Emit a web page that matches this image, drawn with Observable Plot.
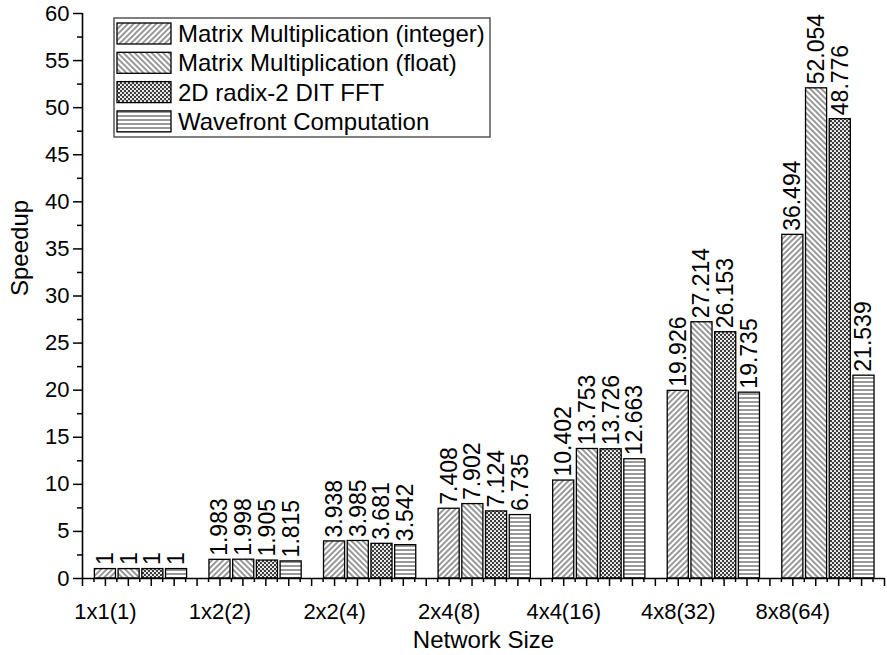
<!DOCTYPE html>
<html>
<head>
<meta charset="utf-8">
<script src="https://cdn.jsdelivr.net/npm/d3@7"></script>
<script src="https://cdn.jsdelivr.net/npm/@observablehq/plot@0.6"></script>
<style>
  body { margin: 0; background: #fff; }
  #chart { width: 887px; height: 655px; }
</style>
</head>
<body>
<div id="chart"></div>
<script>
// Speedup per network size for four parallel workloads
const networkSizes = ["1x1(1)", "1x2(2)", "2x2(4)", "2x4(8)", "4x4(16)", "4x8(32)", "8x8(64)"];
const seriesNames = [
  "Matrix Multiplication (integer)",
  "Matrix Multiplication (float)",
  "2D radix-2 DIT FFT",
  "Wavefront Computation"
];
const mmInteger = [1, 1.983, 3.938, 7.408, 10.402, 19.926, 36.494];
const mmFloat   = [1, 1.998, 3.985, 7.902, 13.753, 27.214, 52.054];
const fft2d     = [1, 1.905, 3.681, 7.124, 13.726, 26.153, 48.776];
const wavefront = [1, 1.815, 3.542, 6.735, 12.663, 19.735, 21.539];
const yTicks = [0, 5, 10, 15, 20, 25, 30, 35, 40, 45, 50, 55, 60];

const seriesValues = [mmInteger, mmFloat, fft2d, wavefront];
const patternIds = ["hatch-up", "hatch-down", "dots", "hlines"];

// Layout of the grouped bars on a linear x axis: the group label sits under the first bar
const xDomain = [0.8, 7.8];
const barStep = 0.207;
const barWidth = 0.184;

const bars = [];
networkSizes.forEach((size, i) => {
  seriesValues.forEach((values, j) => {
    const center = i + 1 + j * barStep;
    bars.push({
      size,
      series: seriesNames[j],
      value: values[i],
      xc: center,
      x1: center - barWidth / 2,
      x2: center + barWidth / 2
    });
  });
});

const tenths = d3.range(8, 79).map(v => v / 10);
const xMajorTicks = tenths.filter((_, k) => k % 2 === 0);
const xMinorTicks = tenths.filter((_, k) => k % 2 === 1);
const yMinorTicks = yTicks.slice(0, -1).map(v => v + 2.5);

const font = "Arial, 'Liberation Sans', Helvetica, sans-serif";

const svg = Plot.plot({
  width: 887,
  height: 655,
  marginLeft: 82,
  marginRight: 3,
  marginTop: 13,
  marginBottom: 77,
  style: { fontFamily: font, background: "#fff", color: "#000", overflow: "visible" },
  x: { domain: xDomain, label: null },
  y: { domain: [0, 60], label: null },
  color: { type: "ordinal", domain: seriesNames, range: patternIds.map(id => `url(#${id})`) },
  marks: [
    Plot.rect(bars, { x1: "x1", x2: "x2", y1: 0, y2: "value", fill: "series", stroke: "#000", strokeWidth: 1.3 }),
    Plot.text(bars, {
      x: "xc", y: "value", text: d => String(d.value),
      rotate: -90, textAnchor: "start", dy: -4, fontSize: 23, fill: "#000"
    }),
    Plot.axisY({ ticks: yTicks, tickSize: 9, tickPadding: 4, fontSize: 22, strokeWidth: 1.5, label: null }),
    Plot.axisY({ ticks: yMinorTicks, tickSize: 5, tickFormat: () => "", strokeWidth: 1.5, label: null }),
    Plot.axisX({ ticks: d3.range(1, 8), tickSize: 0, tickPadding: 25, fontSize: 22,
                 tickFormat: v => networkSizes[v - 1], label: null }),
    Plot.axisX({ ticks: xMajorTicks, tickSize: 8, tickFormat: () => "", strokeWidth: 1.5, label: null }),
    Plot.axisX({ ticks: xMinorTicks, tickSize: 4, tickFormat: () => "", strokeWidth: 1.5, label: null }),
    Plot.ruleY([0], { strokeWidth: 1.6 }),
    Plot.ruleX([xDomain[0]], { strokeWidth: 1.6 }),
    Plot.text(["Network Size"], { frameAnchor: "bottom", dy: 69, fontSize: 24 }),
    Plot.text(["Speedup"], { frameAnchor: "left", dx: -62, rotate: -90, fontSize: 24 })
  ]
});

// Fill patterns for the four series
const root = d3.select(svg);
const defs = root.insert("defs", ":first-child");
function linePattern(id, angle, spacing, width) {
  const p = defs.append("pattern")
    .attr("id", id)
    .attr("patternUnits", "userSpaceOnUse")
    .attr("width", spacing)
    .attr("height", spacing)
    .attr("patternTransform", `rotate(${angle})`);
  p.append("rect").attr("width", spacing).attr("height", spacing).attr("fill", "#fff");
  p.append("line")
    .attr("x1", spacing / 2).attr("y1", 0)
    .attr("x2", spacing / 2).attr("y2", spacing)
    .attr("stroke", "#333").attr("stroke-width", width);
}
linePattern("hatch-up", 45, 4, 1);
linePattern("hatch-down", -45, 4, 1);
linePattern("hlines", 90, 4, 1);
const dots = defs.append("pattern")
  .attr("id", "dots")
  .attr("patternUnits", "userSpaceOnUse")
  .attr("width", 4)
  .attr("height", 4);
dots.append("rect").attr("width", 4).attr("height", 4).attr("fill", "#3c3c3c");
dots.append("circle").attr("cx", 1).attr("cy", 1).attr("r", 1.1).attr("fill", "#fff");
dots.append("circle").attr("cx", 3).attr("cy", 3).attr("r", 1.1).attr("fill", "#fff");

// Legend box in the upper left of the plot area
const legend = root.append("g")
  .attr("transform", "translate(114,18)")
  .attr("font-family", font)
  .attr("text-anchor", "start");
legend.append("rect")
  .attr("width", 376).attr("height", 119)
  .attr("fill", "#fff").attr("stroke", "#555").attr("stroke-width", 1.5);
seriesNames.forEach((name, j) => {
  const top = 5 + j * 29.3;
  legend.append("rect")
    .attr("x", 3).attr("y", top)
    .attr("width", 54).attr("height", 21)
    .attr("fill", `url(#${patternIds[j]})`)
    .attr("stroke", "#000").attr("stroke-width", 1.3);
  legend.append("text")
    .attr("x", 64).attr("y", top + 10.5)
    .attr("dy", "0.35em")
    .attr("text-anchor", "start")
    .attr("font-size", 24)
    .attr("fill", "#000")
    .text(name);
});

document.getElementById("chart").appendChild(svg);
</script>
</body>
</html>
